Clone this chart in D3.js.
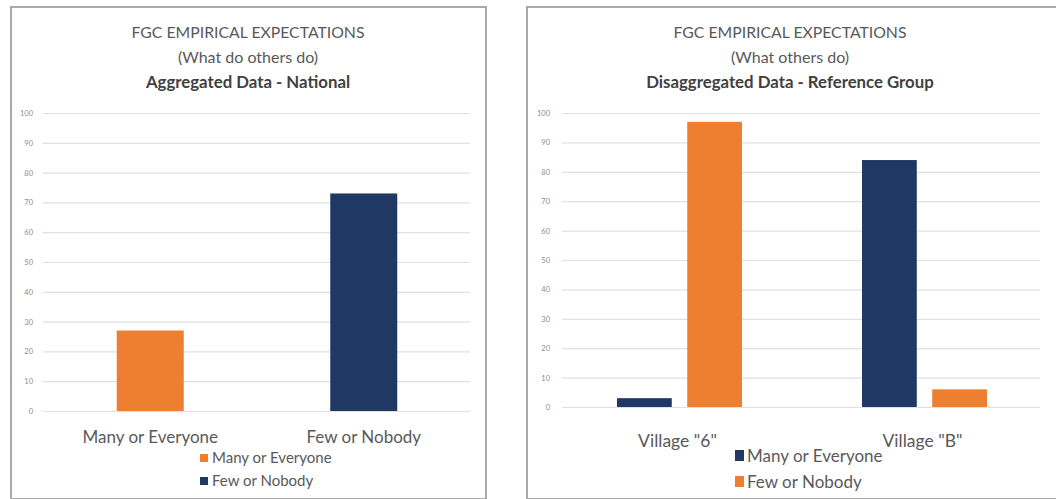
<!DOCTYPE html>
<html><head><meta charset="utf-8">
<script src="https://cdn.jsdelivr.net/npm/d3@7"></script>
<style>body{margin:0;background:#fff}svg{display:block;font-family:Lato,"Open Sans",sans-serif}</style>
</head><body><svg id="c" width="1056" height="499"></svg>
<script>
// ---- data ----
const ticks = [0,10,20,30,40,50,60,70,80,90,100];
const leftCategories = ["Many or Everyone","Few or Nobody"];
const leftValues = [27,73];
const leftTitles = ["FGC EMPIRICAL EXPECTATIONS","(What do others do)","Aggregated Data - National"];
const rightCategories = ['Village "6"','Village "B"'];
const rightSeries = ["Many or Everyone","Few or Nobody"];
const rightManyValues = [3,84];
const rightFewValues = [97,6];
const rightTitles = ["FGC EMPIRICAL EXPECTATIONS","(What others do)","Disaggregated Data - Reference Group"];

const ORANGE="#ee7f30", NAVY="#203864", TXT="#595959";
const svg=d3.select("#c");
svg.append("rect").attr("width",1056).attr("height",499).attr("fill","#fff");

function panel(o){
  const g=svg.append("g");
  g.append("rect").attr("x",o.bx).attr("y",7).attr("width",o.bw).attr("height",492)
    .attr("fill","#fff").attr("stroke","#a9a9a9").attr("stroke-width",2);
  const sizes=[15.8,16,16.8];
  o.titles.forEach((t,i)=>{
    g.append("text").attr("x",o.cx).attr("y",38+i*25).attr("text-anchor","middle")
     .attr("font-size",sizes[i]).attr("font-weight",i==2?"bold":"normal").attr("fill",i==2?"#404040":TXT).text(t);
  });
  const y=d3.scaleLinear().domain([0,100]).range([o.y0,113]);
  const ax=g.append("g").attr("transform",`translate(${o.gx0},0)`)
    .call(d3.axisLeft(y).tickValues(ticks).tickSize(-(o.gx1-o.gx0)).tickPadding(o.pad));
  ax.select(".domain").remove();
  ax.selectAll(".tick line").attr("stroke","#e0e0e0").attr("stroke-width",1.2);
  ax.selectAll(".tick text").attr("fill","#8c8c8c").attr("font-size",7.5).attr("font-family","Lato,sans-serif");
  return {g,y};
}

// left panel
{
  const {g,y}=panel({bx:11,bw:475,cx:248,titles:leftTitles,y0:411,gx0:43,gx1:470,pad:10});
  const x=d3.scaleBand().domain(leftCategories).range([43,470]);
  const bw=67;
  g.selectAll("rect.bar").data(leftCategories).join("rect").attr("class","bar")
    .attr("x",d=>x(d)+x.bandwidth()/2-bw/2+0.5).attr("width",bw)
    .attr("y",(d,i)=>y(leftValues[i])).attr("height",(d,i)=>y(0)-y(leftValues[i]))
    .attr("fill",(d,i)=>i==0?ORANGE:NAVY);
  g.selectAll("text.cat").data(leftCategories).join("text").attr("class","cat")
    .attr("x",d=>x(d)+x.bandwidth()/2+0.5).attr("y",443).attr("text-anchor","middle")
    .attr("font-size",17).attr("fill",TXT).text(d=>d);
  const lg=g.selectAll("g.leg").data(leftCategories).join("g").attr("class","leg")
    .attr("transform",(d,i)=>`translate(200,${458+i*23})`);
  lg.append("rect").attr("x",0).attr("y",-4).attr("width",8).attr("height",8).attr("fill",(d,i)=>i==0?ORANGE:NAVY);
  lg.append("text").attr("x",12).attr("y",5).attr("font-size",15).attr("fill",TXT).text(d=>d);
}

// right panel
{
  const {g,y}=panel({bx:527,bw:540,cx:790,titles:rightTitles,y0:407,gx0:562,gx1:1040,pad:12});
  const x0=d3.scaleBand().domain(rightCategories).range([557,1047]);
  const x1=d3.scaleBand().domain(rightSeries).range([-62.5,62.5]).paddingInner(0.22);
  const colors={"Many or Everyone":NAVY,"Few or Nobody":ORANGE};
  const vals={"Many or Everyone":rightManyValues,"Few or Nobody":rightFewValues};
  rightCategories.forEach((c,ci)=>{
    const cx=x0(c)+x0.bandwidth()/2;
    g.selectAll(null).data(rightSeries).join("rect")
      .attr("x",s=>cx+x1(s)).attr("width",x1.bandwidth())
      .attr("y",s=>y(vals[s][ci])).attr("height",s=>y(0)-y(vals[s][ci]))
      .attr("fill",s=>colors[s]);
    g.append("text").attr("x",cx-2).attr("y",447).attr("text-anchor","middle")
      .attr("font-size",17.5).attr("fill",TXT).text(c);
  });
  const lg=g.selectAll("g.leg").data(rightSeries).join("g").attr("class","leg")
    .attr("transform",(d,i)=>`translate(735,${456+i*26})`);
  lg.append("rect").attr("x",0).attr("y",-6).attr("width",9).attr("height",11).attr("fill",d=>colors[d]);
  lg.append("text").attr("x",12).attr("y",6).attr("font-size",17).attr("fill",TXT).text(d=>d);
}
</script></body></html>
